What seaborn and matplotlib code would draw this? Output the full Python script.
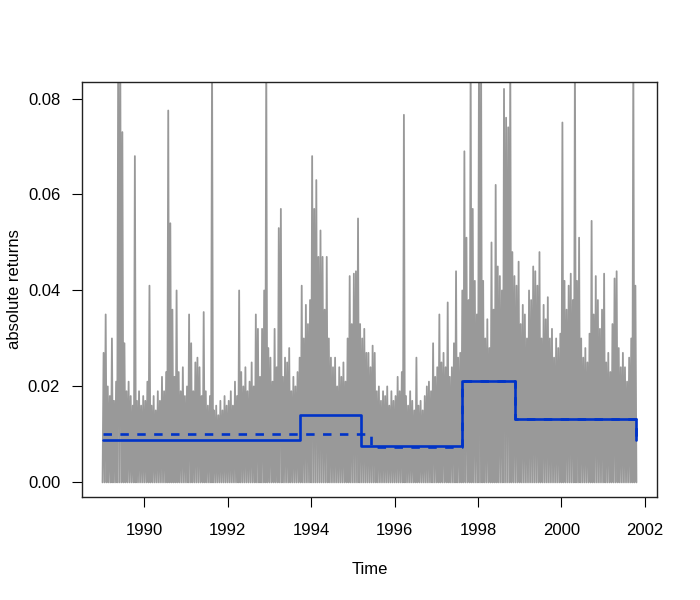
import numpy as np
import pandas as pd
import seaborn as sns
import matplotlib as mpl
import matplotlib.pyplot as plt

# absolute returns, one peak value per 0.05 year bin (1989.0 - 2001.8)
start_year = 1989.0
bin_width = 0.05
peaks = [
    # 1989
    0.027, 0.035, 0.020, 0.018, 0.030, 0.017, 0.021, 0.090, 0.090, 0.073,
    0.029, 0.019, 0.021, 0.018, 0.016, 0.068, 0.017, 0.019, 0.016, 0.018,
    # 1990
    0.017, 0.021, 0.041, 0.016, 0.018, 0.015, 0.019, 0.017, 0.022, 0.019,
    0.023, 0.0775, 0.054, 0.036, 0.022, 0.040, 0.023, 0.019, 0.024, 0.018,
    # 1991
    0.020, 0.035, 0.029, 0.019, 0.025, 0.026, 0.024, 0.018, 0.0355, 0.019,
    0.016, 0.018, 0.090, 0.015, 0.016, 0.014, 0.017, 0.015, 0.018, 0.016,
    # 1992
    0.017, 0.019, 0.016, 0.021, 0.018, 0.040, 0.023, 0.020, 0.024, 0.019,
    0.021, 0.025, 0.020, 0.035, 0.032, 0.022, 0.032, 0.040, 0.090, 0.028,
    # 1993
    0.026, 0.021, 0.032, 0.024, 0.053, 0.057, 0.022, 0.026, 0.025, 0.028,
    0.019, 0.022, 0.020, 0.023, 0.026, 0.041, 0.030, 0.037, 0.033, 0.038,
    # 1994
    0.068, 0.057, 0.063, 0.047, 0.0525, 0.047, 0.036, 0.047, 0.030, 0.026,
    0.024, 0.026, 0.020, 0.024, 0.022, 0.025, 0.021, 0.030, 0.043, 0.033,
    # 1995
    0.0435, 0.044, 0.055, 0.033, 0.030, 0.032, 0.027, 0.027, 0.024, 0.0285,
    0.027, 0.019, 0.020, 0.017, 0.019, 0.018, 0.020, 0.016, 0.019, 0.017,
    # 1996
    0.018, 0.022, 0.019, 0.023, 0.0766, 0.018, 0.016, 0.019, 0.017, 0.015,
    0.026, 0.016, 0.017, 0.015, 0.018, 0.020, 0.021, 0.019, 0.029, 0.022,
    # 1997
    0.024, 0.035, 0.025, 0.027, 0.024, 0.0375, 0.022, 0.024, 0.029, 0.044,
    0.026, 0.027, 0.040, 0.069, 0.051, 0.038, 0.090, 0.057, 0.042, 0.035,
    # 1998
    0.090, 0.090, 0.042, 0.030, 0.034, 0.028, 0.050, 0.036, 0.062, 0.045,
    0.043, 0.040, 0.082, 0.076, 0.074, 0.090, 0.048, 0.043, 0.041, 0.046,
    # 1999
    0.033, 0.037, 0.035, 0.030, 0.040, 0.038, 0.045, 0.044, 0.041, 0.048,
    0.030, 0.037, 0.034, 0.0386, 0.030, 0.032, 0.026, 0.030, 0.028, 0.031,
    # 2000
    0.075, 0.042, 0.036, 0.041, 0.0435, 0.038, 0.090, 0.042, 0.051, 0.030,
    0.026, 0.028, 0.025, 0.031, 0.0545, 0.035, 0.043, 0.038, 0.032, 0.036,
    # 2001
    0.0435, 0.025, 0.027, 0.023, 0.033, 0.0425, 0.044, 0.028, 0.024, 0.027,
    0.024, 0.021, 0.026, 0.030, 0.090, 0.041,
]

# fitted volatility levels (step functions)
solid_breaks = [1989.0, 1993.73, 1995.20, 1997.61, 1998.90, 2001.80]
solid_levels = [0.0088, 0.0141, 0.0076, 0.0212, 0.0132, 0.0088]
dashed_breaks = [1989.0, 1995.44, 1997.61, 1998.90, 2001.80]
dashed_levels = [0.0101, 0.0073, 0.0212, 0.0132, 0.0088]

# zig-zag series: low at bin start, peak in the middle of the bin
xs, ys = [], []
for i, p in enumerate(peaks):
    t = start_year + i * bin_width
    xs += [t, t + bin_width * 0.5]
    ys += [0.0, p]
xs.append(start_year + len(peaks) * bin_width)
ys.append(0.0)
df = pd.DataFrame({"time": xs, "absret": ys})

sns.set_style("white")
mpl.rcParams["font.family"] = ["Liberation Sans", "DejaVu Sans"]
mpl.rcParams["font.size"] = 12
mpl.rcParams["text.color"] = "black"
mpl.rcParams["axes.labelcolor"] = "black"
mpl.rcParams["xtick.color"] = "black"
mpl.rcParams["ytick.color"] = "black"

fig = plt.figure(figsize=(7, 6), dpi=100)
ax = fig.add_axes([0.1167, 0.1712, 0.939 - 0.1167, 0.8638 - 0.1712])

sns.lineplot(data=df, x="time", y="absret", ax=ax, color="#999999",
             lw=1.3, estimator=None, sort=False)
sns.lineplot(x=solid_breaks, y=solid_levels, ax=ax, color="#0033c8",
             lw=1.9, drawstyle="steps-post", estimator=None, sort=False)
sns.lineplot(x=dashed_breaks, y=dashed_levels, ax=ax, color="#0033c8",
             lw=1.9, drawstyle="steps-post", estimator=None, sort=False,
             dashes=False, linestyle=(0, (3.2, 3.2)))

ax.set_xlim(1988.50, 2002.30)
ax.set_ylim(-0.0031, 0.0835)
ax.set_xticks(range(1990, 2003, 2))
ax.set_yticks([0.0, 0.02, 0.04, 0.06, 0.08])
ax.set_yticklabels(["0.00", "0.02", "0.04", "0.06", "0.08"])
ax.tick_params(axis="both", direction="out", length=7.5, width=0.8,
               colors="black", labelsize=12, left=True, bottom=True)
ax.tick_params(axis="x", pad=11)
ax.tick_params(axis="y", pad=8)
for s in ax.spines.values():
    s.set_color("#222222")
    s.set_linewidth(1.0)
    s.set_visible(True)

ax.set_xlabel("Time", fontsize=12, labelpad=17)
ax.set_ylabel("absolute returns", fontsize=12, labelpad=4)

fig.savefig("out.png", dpi=100)
